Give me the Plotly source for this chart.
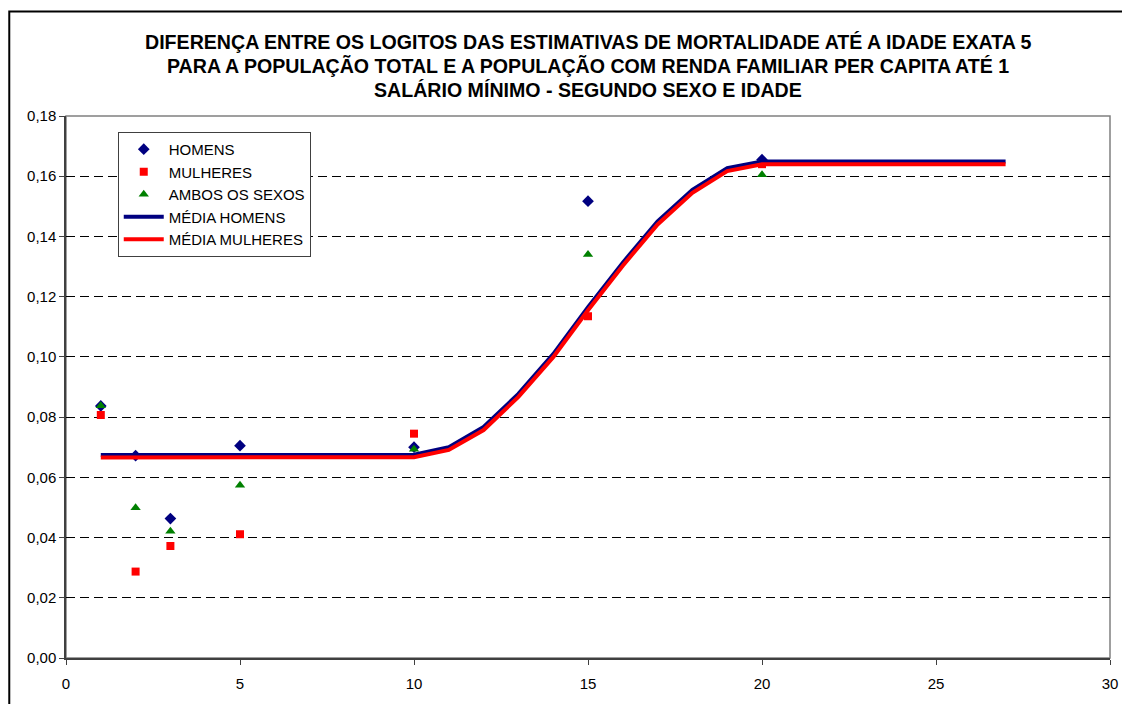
import plotly.graph_objects as go

# ---- data ----
idades_pontos = [1, 2, 3, 5, 10, 15, 20]
homens = [0.0837, 0.0672, 0.0463, 0.0705, 0.0700, 0.1517, 0.1655]
mulheres = [0.0807, 0.0287, 0.0372, 0.0411, 0.0745, 0.1135, 0.1640]
ambos = [0.0838, 0.0499, 0.0421, 0.0574, 0.0693, 0.1340, 0.1605]

idades_media = [1, 2, 3, 4, 5, 6, 7, 8, 9, 10, 11, 12, 13, 14,
                15, 16, 17, 18, 19, 20, 21, 22, 23, 24, 25, 26, 27]
media_homens = [0.0674, 0.0674, 0.0674, 0.0674, 0.0674, 0.0674, 0.0674,
                0.0674, 0.0674, 0.0675, 0.0700, 0.0767, 0.0877, 0.1009,
                0.1165, 0.1313, 0.1450, 0.1555, 0.1627, 0.1649, 0.1649,
                0.1649, 0.1649, 0.1649, 0.1649, 0.1649, 0.1649]
media_mulheres = [0.0666, 0.0666, 0.0666, 0.0666, 0.0666, 0.0666, 0.0666,
                  0.0666, 0.0666, 0.0667, 0.0691, 0.0757, 0.0867, 0.0999,
                  0.1155, 0.1303, 0.1440, 0.1545, 0.1617, 0.1640, 0.1640,
                  0.1640, 0.1640, 0.1640, 0.1640, 0.1640, 0.1640]

titulo = [
    "DIFERENÇA ENTRE OS LOGITOS DAS ESTIMATIVAS DE MORTALIDADE ATÉ A IDADE EXATA 5",
    "PARA A POPULAÇÃO TOTAL E A POPULAÇÃO COM RENDA FAMILIAR PER CAPITA ATÉ 1",
    "SALÁRIO MÍNIMO - SEGUNDO SEXO E IDADE",
]

FONT = "Liberation Sans, Arial, sans-serif"
NAVY = "#000080"
RED = "#FF0000"
GREEN = "#008000"

fig = go.Figure()
fig.add_trace(go.Scatter(x=idades_pontos, y=homens, mode="markers", name="HOMENS",
                         legendgroup="a",
                         marker=dict(symbol="diamond", size=9, color=NAVY)))
fig.add_trace(go.Scatter(x=idades_pontos, y=mulheres, mode="markers", name="MULHERES",
                         legendgroup="b",
                         marker=dict(symbol="square", size=8, color=RED)))
fig.add_trace(go.Scatter(x=idades_pontos, y=ambos, mode="markers", name="AMBOS OS SEXOS",
                         legendgroup="c",
                         marker=dict(symbol="triangle-up", size=9, color=GREEN)))
fig.add_trace(go.Scatter(x=idades_media, y=media_homens, mode="lines", name="MÉDIA HOMENS",
                         legendgroup="d",
                         line=dict(color=NAVY, width=4)))
fig.add_trace(go.Scatter(x=idades_media, y=media_mulheres, mode="lines", name="MÉDIA MULHERES",
                         legendgroup="e",
                         line=dict(color=RED, width=4)))

# page has an 8px body margin; figure coordinates are page - 8
OFF = 8
W, H = 1130 - OFF, 704 - OFF
L, R, T, B = 66 - OFF, 15, 116 - OFF, 44
pw = W - L - R
ph = H - T - B

shapes = [
    # plot area border (gray)
    dict(type="rect", xref="paper", yref="paper", x0=0, x1=1, y0=0, y1=1,
         line=dict(color="#808080", width=1.5), layer="below"),
    # outer chart frame
    dict(type="rect", xref="paper", yref="paper",
         x0=(9 - OFF - L) / pw, x1=(W + 20 - L) / pw,
         y0=-(60) / ph, y1=1 + (T - (11 - OFF)) / ph,
         line=dict(color="black", width=2), layer="below"),
]

annotations = []
for i, linha in enumerate(titulo):
    annotations.append(dict(
        text="<b>" + linha + "</b>", xref="paper", yref="paper",
        x=0.5, y=1 + (T - (42 - OFF + 24 * i)) / ph, xanchor="center", yanchor="middle",
        showarrow=False, font=dict(family=FONT, size=19.6, color="black")))

fig.update_layout(
    width=W, height=H,
    margin=dict(l=L, r=R, t=T, b=B),
    paper_bgcolor="white", plot_bgcolor="white",
    separators=",.",
    font=dict(family=FONT, size=15, color="black"),
    showlegend=True,
    legend=dict(x=(118 - OFF - L) / pw, y=1 - (132 - OFF - T) / ph,
                xanchor="left", yanchor="top",
                bgcolor="white", bordercolor="#404040", borderwidth=1,
                font=dict(family=FONT, size=15, color="black"),
                tracegroupgap=0, itemwidth=40),
    shapes=shapes,
    annotations=annotations,
)
fig.update_xaxes(range=[0, 30], dtick=5, tick0=0, showgrid=False, zeroline=False,
                 showline=True, linecolor="#404040", linewidth=2,
                 ticks="outside", ticklen=5, tickcolor="#404040",
                 ticklabelstandoff=6,
                 tickfont=dict(family=FONT, size=15, color="black"))
fig.update_yaxes(range=[0, 0.18], dtick=0.02, tick0=0, tickformat=".2f",
                 showgrid=True, gridcolor="black", gridwidth=1, griddash="9px,5px",
                 zeroline=False, showline=True, linecolor="#404040", linewidth=1.5,
                 ticks="outside", ticklen=5, tickcolor="#404040",
                 tickfont=dict(family=FONT, size=15, color="black"))

fig.write_html("out.html")
